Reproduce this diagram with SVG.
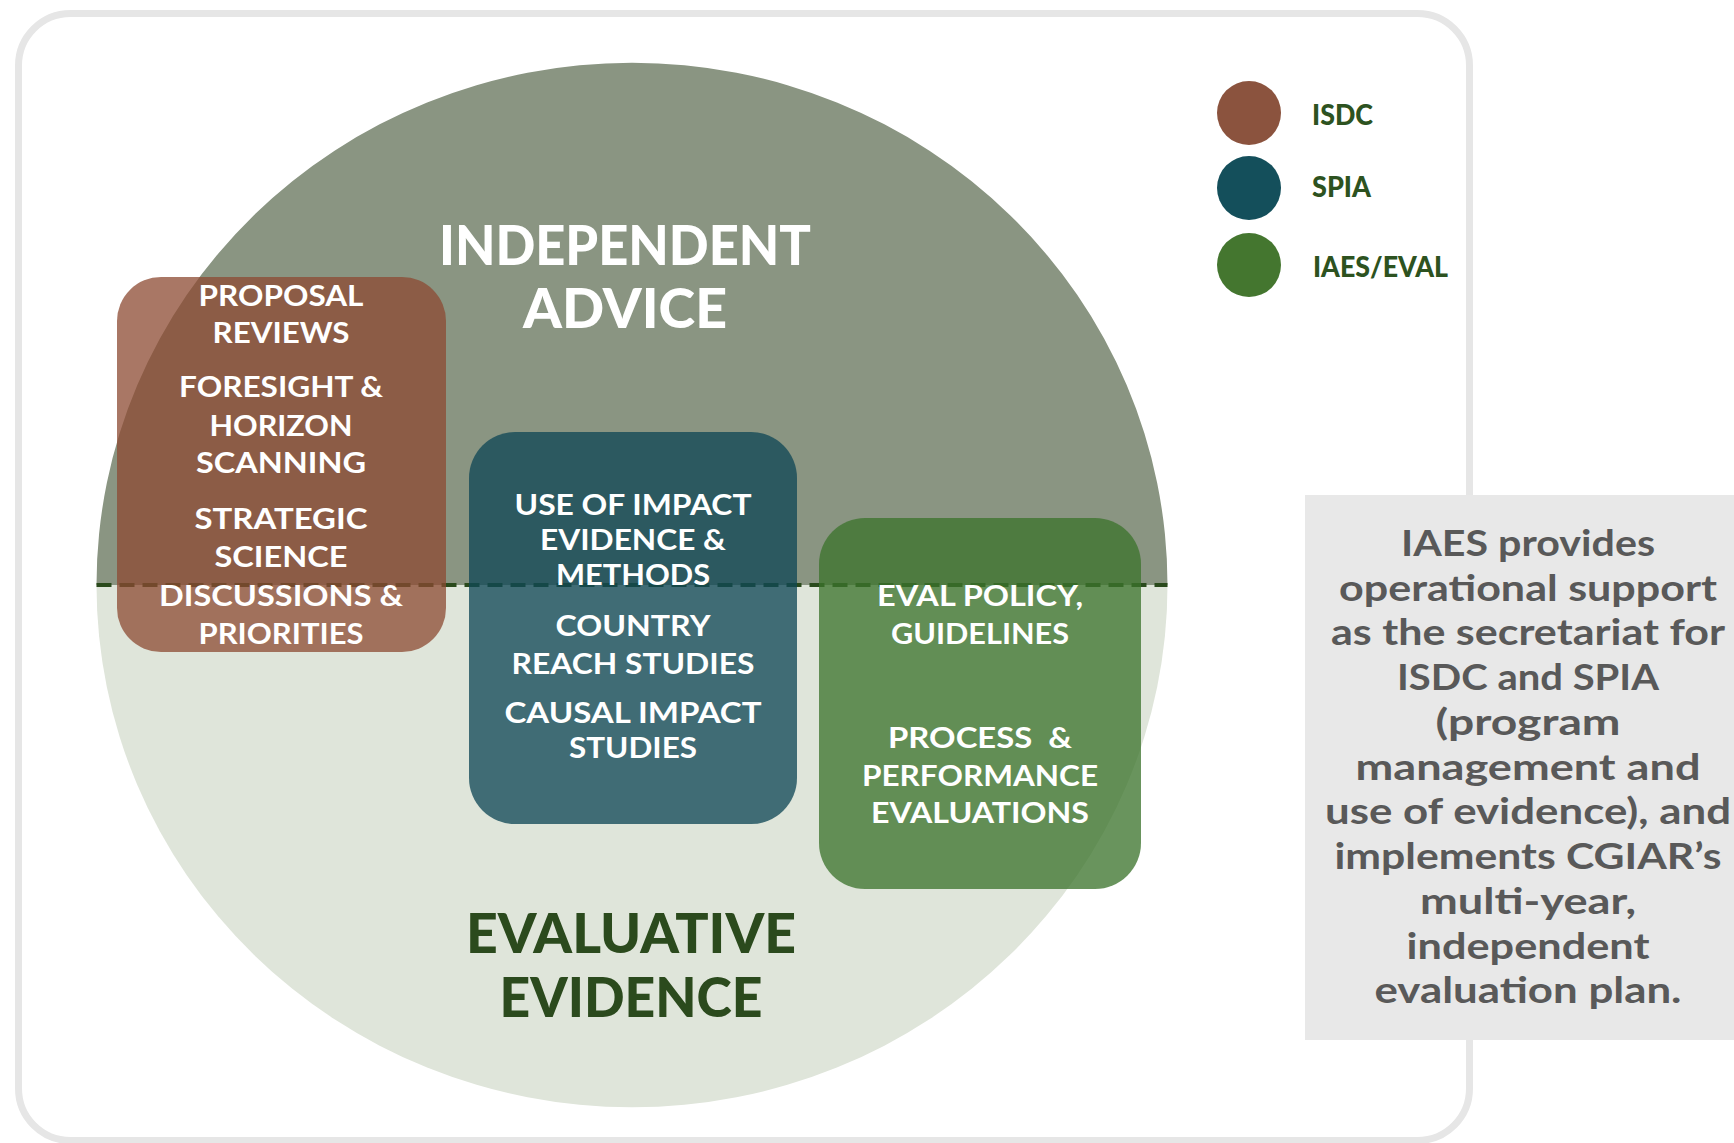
<svg xmlns="http://www.w3.org/2000/svg" width="1734" height="1143" viewBox="0 0 1734 1143">
<style>
text{font-family:Lato,"Open Sans","Liberation Sans",sans-serif;text-anchor:middle}
.box{font-weight:700;font-size:29px;fill:#ffffff}
.title{font-weight:900;font-size:55px}
.legend{font-weight:900;font-size:28px;fill:#2d5220;text-anchor:start}
.note{font-weight:700;font-size:37px;fill:#595959}
</style>
<rect x="0" y="0" width="1734" height="1143" fill="#ffffff"/>
<rect id="frame" x="18.5" y="13.5" width="1451" height="1127" rx="52" ry="52" fill="#ffffff" stroke="#e6e6e6" stroke-width="7"/>
<g id="circle">
<path d="M96.5 585 A535 522 0 0 1 1167.5 585 Z" fill="#8a9582"/>
<path d="M96.5 585 A535 522 0 0 0 1167.5 585 Z" fill="#dfe5da"/>
</g>
<g id="connectors">
<line x1="96.5" y1="585" x2="1167.5" y2="585" stroke="#2a4a1c" stroke-width="4" stroke-dasharray="15 8"/>
</g>
<g id="independent-advice">
<text class="title" x="625" y="265" fill="#ffffff" textLength="372" lengthAdjust="spacingAndGlyphs">INDEPENDENT</text>
<text class="title" x="625" y="328" fill="#ffffff" textLength="204" lengthAdjust="spacingAndGlyphs">ADVICE</text>
</g>
<g id="evaluative-evidence">
<text class="title" x="631" y="953" fill="#2b4a1d" textLength="330" lengthAdjust="spacingAndGlyphs">EVALUATIVE</text>
<text class="title" x="631" y="1017" fill="#2b4a1d" textLength="263" lengthAdjust="spacingAndGlyphs">EVIDENCE</text>
</g>
<g id="isdc-box">
<rect x="117" y="277" width="329" height="375" rx="44" fill="#8c4a31" fill-opacity="0.75"/>
<text class="box" x="281" y="306" textLength="165" lengthAdjust="spacingAndGlyphs">PROPOSAL</text>
<text class="box" x="281" y="343" textLength="137" lengthAdjust="spacingAndGlyphs">REVIEWS</text>
<text class="box" x="281" y="397" textLength="204" lengthAdjust="spacingAndGlyphs">FORESIGHT &amp;</text>
<text class="box" x="281" y="436" textLength="143" lengthAdjust="spacingAndGlyphs">HORIZON</text>
<text class="box" x="281" y="473" textLength="170" lengthAdjust="spacingAndGlyphs">SCANNING</text>
<text class="box" x="281" y="529" textLength="173" lengthAdjust="spacingAndGlyphs">STRATEGIC</text>
<text class="box" x="281" y="567" textLength="133" lengthAdjust="spacingAndGlyphs">SCIENCE</text>
<text class="box" x="281" y="606" textLength="244" lengthAdjust="spacingAndGlyphs">DISCUSSIONS &amp;</text>
<text class="box" x="281" y="644" textLength="165" lengthAdjust="spacingAndGlyphs">PRIORITIES</text>
</g>
<g id="spia-box">
<rect x="469" y="432" width="328" height="392" rx="46" fill="#0f4856" fill-opacity="0.77"/>
<text class="box" x="633" y="515" textLength="237" lengthAdjust="spacingAndGlyphs">USE OF IMPACT</text>
<text class="box" x="633" y="550" textLength="186" lengthAdjust="spacingAndGlyphs">EVIDENCE &amp;</text>
<text class="box" x="633" y="585" textLength="154" lengthAdjust="spacingAndGlyphs">METHODS</text>
<text class="box" x="633" y="636" textLength="155" lengthAdjust="spacingAndGlyphs">COUNTRY</text>
<text class="box" x="633" y="674" textLength="243" lengthAdjust="spacingAndGlyphs">REACH STUDIES</text>
<text class="box" x="633" y="723" textLength="257" lengthAdjust="spacingAndGlyphs">CAUSAL IMPACT</text>
<text class="box" x="633" y="758" textLength="128" lengthAdjust="spacingAndGlyphs">STUDIES</text>
</g>
<g id="eval-box">
<rect x="819" y="518" width="322" height="371" rx="46" fill="#3c742c" fill-opacity="0.77"/>
<text class="box" x="980" y="606" textLength="206" lengthAdjust="spacingAndGlyphs">EVAL POLICY,</text>
<text class="box" x="980" y="644" textLength="178" lengthAdjust="spacingAndGlyphs">GUIDELINES</text>
<text class="box" x="980" y="748" textLength="184" lengthAdjust="spacingAndGlyphs" xml:space="preserve">PROCESS  &amp;</text>
<text class="box" x="980" y="786" textLength="236" lengthAdjust="spacingAndGlyphs">PERFORMANCE</text>
<text class="box" x="980" y="823" textLength="218" lengthAdjust="spacingAndGlyphs">EVALUATIONS</text>
</g>
<g id="legend-isdc">
<circle cx="1249" cy="113" r="32" fill="#8b533e"/>
<text class="legend" x="1312" y="125" textLength="61" lengthAdjust="spacingAndGlyphs">ISDC</text>
</g>
<g id="legend-spia">
<circle cx="1249" cy="188" r="32" fill="#144f5b"/>
<text class="legend" x="1312" y="197" textLength="59" lengthAdjust="spacingAndGlyphs">SPIA</text>
</g>
<g id="legend-iaes">
<circle cx="1249" cy="265" r="32" fill="#44762f"/>
<text class="legend" x="1313" y="277" textLength="135" lengthAdjust="spacingAndGlyphs">IAES/EVAL</text>
</g>
<g id="note">
<rect x="1305" y="495" width="429" height="545" fill="#e8e8e8"/>
<text class="note" x="1528" y="556" textLength="254" lengthAdjust="spacingAndGlyphs">IAES provides</text>
<text class="note" x="1528" y="601" textLength="378" lengthAdjust="spacingAndGlyphs">operational support</text>
<text class="note" x="1528" y="645" textLength="394" lengthAdjust="spacingAndGlyphs">as the secretariat for</text>
<text class="note" x="1528" y="690" textLength="262" lengthAdjust="spacingAndGlyphs">ISDC and SPIA</text>
<text class="note" x="1528" y="735" textLength="185" lengthAdjust="spacingAndGlyphs">(program</text>
<text class="note" x="1528" y="780" textLength="345" lengthAdjust="spacingAndGlyphs">management and</text>
<text class="note" x="1528" y="824" textLength="406" lengthAdjust="spacingAndGlyphs">use of evidence), and</text>
<text class="note" x="1528" y="869" textLength="387" lengthAdjust="spacingAndGlyphs">implements CGIAR’s</text>
<text class="note" x="1528" y="914" textLength="216" lengthAdjust="spacingAndGlyphs">multi-year,</text>
<text class="note" x="1528" y="959" textLength="243" lengthAdjust="spacingAndGlyphs">independent</text>
<text class="note" x="1528" y="1003" textLength="307" lengthAdjust="spacingAndGlyphs">evaluation plan.</text>
</g>
</svg>
